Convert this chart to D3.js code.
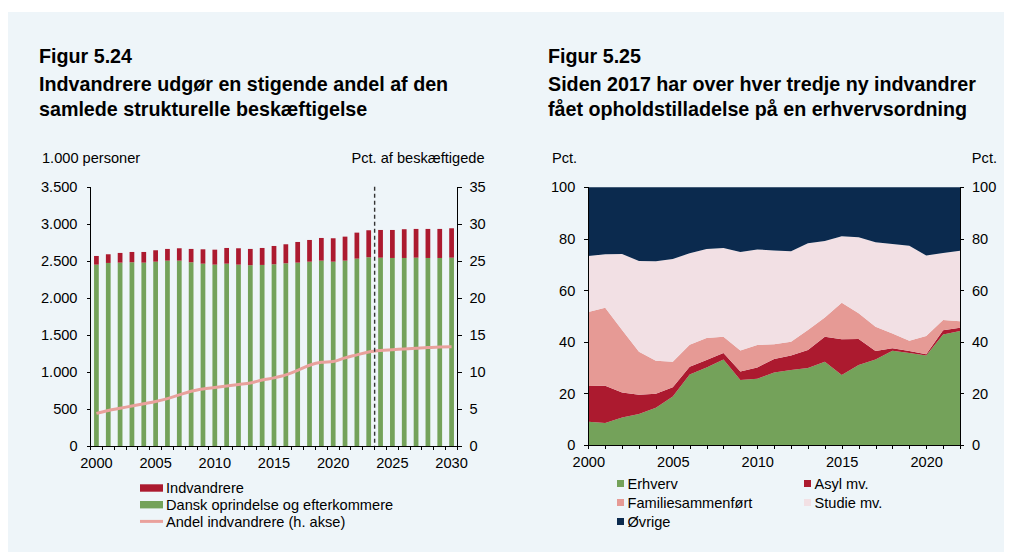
<!DOCTYPE html>
<html>
<head>
<meta charset="utf-8">
<script src="https://cdn.jsdelivr.net/npm/d3@7/dist/d3.min.js"></script>
<style>
  html, body { margin: 0; padding: 0; background: #ffffff; }
  svg { display: block; font-family: "Liberation Sans", Arial, sans-serif; }
  .axis path, .axis line { stroke: #000; shape-rendering: crispEdges; }
  .axis text { font-size: 14.6px; fill: #000; font-family: "Liberation Sans", Arial, sans-serif; }
</style>
</head>
<body>
<svg id="chart" width="1014" height="552"></svg>
<script>
// ---- Figur 5.24: structural employment, 1.000 personer ----
const empYears = d3.range(2000, 2031);
const empDanish = [2448, 2471, 2475, 2480, 2475, 2488, 2502, 2502, 2480, 2461, 2448,
                   2461, 2448, 2440, 2444, 2453, 2466, 2475, 2488, 2502, 2488, 2502,
                   2529, 2548, 2542, 2538, 2538, 2542, 2538, 2538, 2542];
const empTotal  = [2565, 2588, 2606, 2619, 2619, 2642, 2660, 2669, 2660, 2655, 2650,
                   2673, 2669, 2660, 2673, 2700, 2723, 2754, 2781, 2808, 2804, 2826,
                   2880, 2912, 2916, 2916, 2926, 2930, 2930, 2930, 2939];
const immShare  = [4.4, 4.8, 5.1, 5.4, 5.7, 6.0, 6.4, 6.9, 7.4, 7.7, 7.9,
                   8.1, 8.3, 8.5, 8.9, 9.2, 9.6, 10.2, 10.9, 11.3, 11.4, 11.9,
                   12.3, 12.7, 12.9, 13.0, 13.1, 13.2, 13.3, 13.35, 13.4];
const leftTicks  = [0, 500, 1000, 1500, 2000, 2500, 3000, 3500];
const rightTicks = [0, 5, 10, 15, 20, 25, 30, 35];
const empYearLabels = [2000, 2005, 2010, 2015, 2020, 2025, 2030];
const forecastStart = 2024;

// ---- Figur 5.25: new immigrants by residence basis, pct. ----
const permitYears = d3.range(2000, 2023);
const erhverv  = [9.0, 8.5, 10.7, 12.0, 14.5, 18.8, 27.4, 30.1, 33.2, 25.2, 25.7, 28.1,
                  29.1, 29.9, 32.3, 27.2, 31.0, 33.2, 36.6, 35.7, 34.7, 42.9, 44.2];
const asyl     = [13.9, 14.5, 9.7, 7.5, 5.4, 3.6, 3.0, 2.9, 2.5, 3.3, 4.4, 5.3,
                  5.6, 7.0, 9.7, 13.8, 10.1, 3.3, 0.9, 0.8, 0.5, 1.6, 1.3];
const familie  = [28.7, 30.3, 24.2, 16.7, 12.8, 9.9, 8.5, 8.5, 6.3, 8.2, 8.7, 5.7,
                  5.4, 7.7, 7.5, 14.2, 10.0, 9.4, 5.8, 4.0, 7.1, 4.0, 2.5];
const studie   = [21.7, 20.7, 29.5, 35.2, 38.6, 39.9, 35.5, 34.6, 34.4, 38.2, 37.1, 36.4,
                  35.1, 33.7, 29.7, 25.8, 29.5, 32.8, 34.7, 36.8, 31.2, 26.0, 27.4];
const ovrige   = [26.7, 26.0, 25.9, 28.6, 28.7, 27.8, 25.6, 23.9, 23.6, 25.1, 24.1, 24.5,
                  24.8, 21.7, 20.8, 19.0, 19.4, 21.3, 22.0, 22.7, 26.5, 25.5, 24.6];
const permitSeries = ["Erhverv", "Asyl mv.", "Familiesammenført", "Studie mv.", "Øvrige"];
const pctTicks = [0, 20, 40, 60, 80, 100];
const permitYearLabels = [2000, 2005, 2010, 2015, 2020];

const colors = {
  green: "#74a25a",
  red: "#ac1a2f",
  salmon: "#e69a95",
  pink: "#f2e0e4",
  navy: "#0b2a4e",
  line: "#e9a19c",
  panel: "#eef5f9"
};

const small = "14.6px";
const dk = d3.formatLocale({ decimal: ",", thousands: ".", grouping: [3], currency: ["", ""] });
const fmtThousands = dk.format(",");

const svg = d3.select("#chart");

// background panel
svg.append("rect").attr("x", 8).attr("y", 12).attr("width", 996).attr("height", 540)
  .attr("fill", colors.panel);

function titleBlock(x, lines) {
  const g = svg.append("g");
  const ys = [62.5, 91, 116];
  lines.forEach((t, i) => {
    g.append("text").attr("x", x).attr("y", ys[i])
      .attr("font-size", "19.7px").attr("font-weight", "bold").attr("fill", "#000")
      .text(t);
  });
}

// ================= Left chart =================
titleBlock(39, ["Figur 5.24", "Indvandrere udgør en stigende andel af den", "samlede strukturelle beskæftigelse"]);

const L = { left: 90.5, right: 457.5, top: 186.7, bottom: 446 };
const xBand = d3.scaleBand().domain(empYears).range([L.left, L.right]).padding(0);
const yLeft = d3.scaleLinear().domain([0, 3500]).range([L.bottom, L.top]);
const yRight = d3.scaleLinear().domain([0, 35]).range([L.bottom, L.top]);
const barW = xBand.bandwidth() * 0.4;

const lg = svg.append("g");

// stacked bars
const bars = lg.append("g");
empYears.forEach((yr, i) => {
  const cx = xBand(yr) + xBand.bandwidth() / 2;
  bars.append("rect").attr("x", cx - barW / 2).attr("width", barW)
    .attr("y", yLeft(empDanish[i])).attr("height", yLeft(0) - yLeft(empDanish[i]))
    .attr("fill", colors.green);
  bars.append("rect").attr("x", cx - barW / 2).attr("width", barW)
    .attr("y", yLeft(empTotal[i])).attr("height", yLeft(empDanish[i]) - yLeft(empTotal[i]))
    .attr("fill", colors.red);
});

// share line (right axis)
const shareLine = d3.line()
  .x((d, i) => xBand(empYears[i]) + xBand.bandwidth() / 2)
  .y(d => yRight(d))
  .curve(d3.curveMonotoneX);
lg.append("path").datum(immShare).attr("d", shareLine)
  .attr("fill", "none").attr("stroke", colors.line).attr("stroke-width", 3);

// forecast divider
lg.append("line")
  .attr("x1", xBand(forecastStart)).attr("x2", xBand(forecastStart))
  .attr("y1", L.top).attr("y2", L.bottom)
  .attr("stroke", "#333").attr("stroke-width", 1.4).attr("stroke-dasharray", "4,3");

// axes
lg.append("g").attr("class", "axis").attr("transform", `translate(${L.left},0)`)
  .call(d3.axisLeft(yLeft).tickValues(leftTicks).tickSize(4).tickPadding(9).tickFormat(fmtThousands))
  .call(g => g.select(".domain").attr("d", `M-0,${L.top}V${L.bottom}`));
lg.append("g").attr("class", "axis").attr("transform", `translate(${L.right},0)`)
  .call(d3.axisRight(yRight).tickValues(rightTicks).tickSize(4).tickPadding(8))
  .call(g => g.select(".domain").attr("d", `M0,${L.top}V${L.bottom}`));

const xAxisL = lg.append("g").attr("class", "axis").attr("transform", `translate(0,${L.bottom})`);
xAxisL.append("line").attr("x1", L.left).attr("x2", L.right).attr("y1", 0).attr("y2", 0).attr("stroke", "#000");
xAxisL.selectAll("line.tk").data(empYears.concat([2031])).join("line").attr("class", "tk")
  .attr("x1", d => d === 2031 ? L.right : xBand(d)).attr("x2", d => d === 2031 ? L.right : xBand(d))
  .attr("y1", 0).attr("y2", 4).attr("stroke", "#000");
xAxisL.selectAll("text").data(empYearLabels).join("text")
  .attr("x", d => xBand(d) + xBand.bandwidth() / 2).attr("y", 22.3)
  .attr("text-anchor", "middle").text(d => d);

lg.append("text").attr("x", 42).attr("y", 163).attr("font-size", small).text("1.000 personer");
lg.append("text").attr("x", 351.5).attr("y", 163).attr("font-size", small).text("Pct. af beskæftigede");

// legend
const legL = lg.append("g").attr("font-size", small);
const legLItems = [
  { label: "Indvandrere", type: "bar", color: colors.red },
  { label: "Dansk oprindelse og efterkommere", type: "bar", color: colors.green },
  { label: "Andel indvandrere (h. akse)", type: "line", color: colors.line }
];
legLItems.forEach((d, i) => {
  const cy = 488 + i * 16.7;
  if (d.type === "bar") {
    legL.append("rect").attr("x", 140).attr("y", cy - 3.7).attr("width", 23).attr("height", 7.4).attr("fill", d.color);
  } else {
    legL.append("line").attr("x1", 140).attr("x2", 163).attr("y1", cy).attr("y2", cy)
      .attr("stroke", d.color).attr("stroke-width", 3);
  }
  legL.append("text").attr("x", 166).attr("y", cy + 5.2).text(d.label);
});

// ================= Right chart =================
titleBlock(548, ["Figur 5.25", "Siden 2017 har over hver tredje ny indvandrer", "fået opholdstilladelse på en erhvervsordning"]);

const R = { left: 588.3, right: 960, top: 187.3, bottom: 445 };
const xLin = d3.scaleLinear().domain([2000, 2022]).range([R.left, R.right]);
const yPct = d3.scaleLinear().domain([0, 100]).range([R.bottom, R.top]);

const rows = permitYears.map((yr, i) => ({
  year: yr,
  "Erhverv": erhverv[i],
  "Asyl mv.": asyl[i],
  "Familiesammenført": familie[i],
  "Studie mv.": studie[i],
  "Øvrige": ovrige[i]
}));
const stacked = d3.stack().keys(permitSeries)(rows);
const areaColors = [colors.green, colors.red, colors.salmon, colors.pink, colors.navy];

const area = d3.area()
  .x(d => xLin(d.data.year))
  .y0(d => yPct(d[0]))
  .y1(d => yPct(d[1]));

const rg = svg.append("g");
rg.selectAll("path.layer").data(stacked).join("path").attr("class", "layer")
  .attr("d", area).attr("fill", (d, i) => areaColors[i]);

rg.append("g").attr("class", "axis").attr("transform", `translate(${R.left},0)`)
  .call(d3.axisLeft(yPct).tickValues(pctTicks).tickSize(4).tickPadding(9))
  .call(g => g.select(".domain").attr("d", `M0,${R.top}V${R.bottom}`));
rg.append("g").attr("class", "axis").attr("transform", `translate(${R.right},0)`)
  .call(d3.axisRight(yPct).tickValues(pctTicks).tickSize(4).tickPadding(8))
  .call(g => g.select(".domain").attr("d", `M0,${R.top}V${R.bottom}`));
rg.append("g").attr("class", "axis").attr("transform", `translate(0,${R.bottom})`)
  .call(d3.axisBottom(xLin).tickValues(permitYears).tickSize(4).tickPadding(8)
    .tickFormat(d => permitYearLabels.includes(d) ? d : ""))
  .call(g => g.select(".domain").attr("d", `M${R.left},0H${R.right}`));

rg.append("text").attr("x", 552).attr("y", 163).attr("font-size", small).text("Pct.");
rg.append("text").attr("x", 997).attr("y", 163).attr("font-size", small).attr("text-anchor", "end").text("Pct.");

// legend in two columns
const legR = rg.append("g").attr("font-size", small);
permitSeries.forEach((name, i) => {
  const col = i % 2, row = Math.floor(i / 2);
  const sx = col === 0 ? 617 : 804;
  const cy = 483.5 + row * 19;
  legR.append("rect").attr("x", sx).attr("y", cy - 3.5).attr("width", 7).attr("height", 7).attr("fill", areaColors[i]);
  legR.append("text").attr("x", sx + 10.5).attr("y", cy + 5.2).text(name);
});
</script>
</body>
</html>
